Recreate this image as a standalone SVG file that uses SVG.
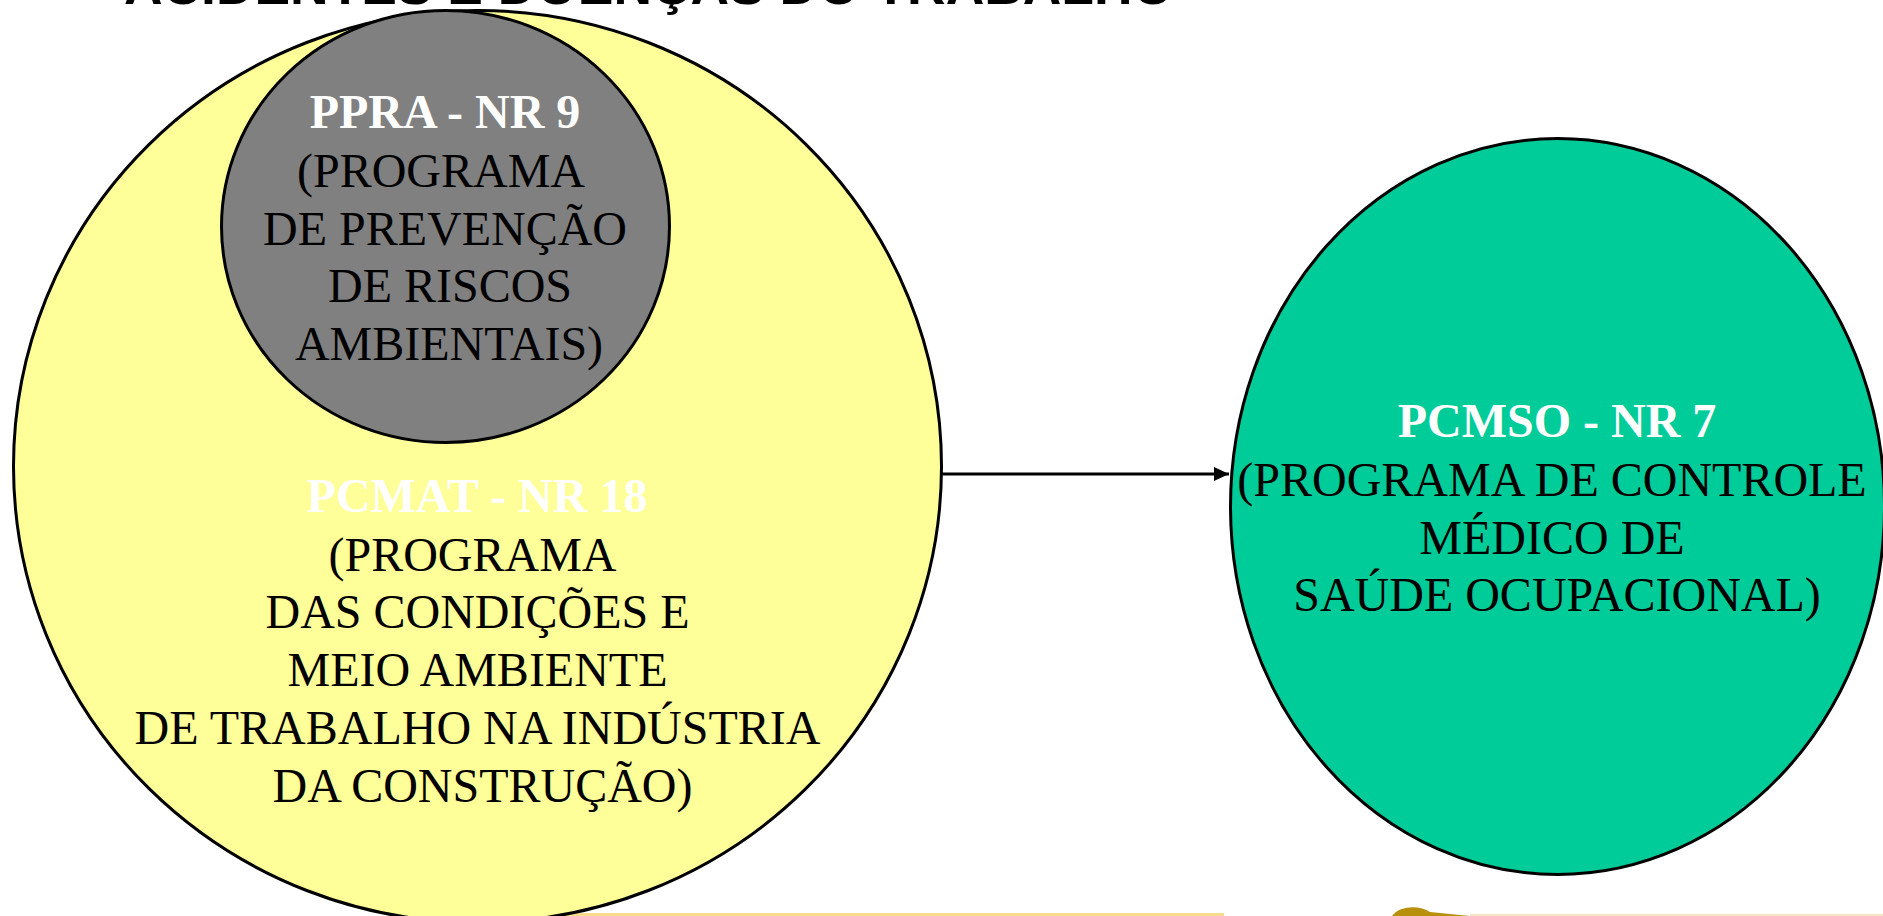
<svg xmlns="http://www.w3.org/2000/svg" width="1883" height="916" viewBox="0 0 1883 916">
<style>
.n{stroke:#000;stroke-width:3}
text{font-family:"Liberation Serif","Times New Roman",serif;font-size:48px;text-anchor:middle;fill:#000}
.b{font-weight:bold;fill:#fff}
.t{font-family:"Liberation Sans",Arial,sans-serif;font-weight:bold;font-size:53.4px}
</style>
<defs><marker id="a" markerWidth="15" markerHeight="14" refX="15" refY="7" orient="auto" markerUnits="userSpaceOnUse"><path d="M0 0L15 7L0 14Z" fill="#000"/></marker></defs>
<rect width="1883" height="916" fill="#fff"/>
<rect x="560" y="913" width="664" height="3" fill="#f7dc8c"/>
<rect x="1470" y="914" width="413" height="2" fill="#f8e3c8"/>
<path d="M1392 916C1400 905 1420 905 1430 912L1470 916Z" fill="#b8900c"/>
<text class="t" x="649" y="4" id="title">ACIDENTES E DOENÇAS DO TRABALHO</text>
<g id="pcmat">
<ellipse class="n" cx="477.500" cy="466.500" rx="464" ry="456" fill="#ffff99"/>
<text class="b" x="477" y="511.500">PCMAT - NR 18</text>
<text x="472.500" y="570.500">(PROGRAMA</text>
<text x="477.500" y="628">DAS CONDIÇÕES E</text>
<text x="477.500" y="686">MEIO AMBIENTE</text>
<text x="477.500" y="744">DE TRABALHO NA INDÚSTRIA</text>
<text x="482.500" y="802">DA CONSTRUÇÃO)</text>
</g>
<g id="ppra">
<ellipse class="n" cx="445.500" cy="226.500" rx="224" ry="216" fill="#808080"/>
<text class="b" x="445" y="128">PPRA - NR 9</text>
<text x="441" y="187">(PROGRAMA</text>
<text x="445" y="245">DE PREVENÇÃO</text>
<text x="450" y="302">DE RISCOS</text>
<text x="449" y="360">AMBIENTAIS)</text>
</g>
<g id="pcmso">
<ellipse class="n" cx="1557.500" cy="506.500" rx="327" ry="368" fill="#00cc99"/>
<text class="b" x="1557" y="437">PCMSO - NR 7</text>
<text x="1552" y="496">(PROGRAMA DE CONTROLE</text>
<text x="1552" y="553.500">MÉDICO DE</text>
<text x="1557" y="611">SAÚDE OCUPACIONAL)</text>
</g>
<g id="connectors"><line x1="942" y1="474" x2="1229" y2="474" stroke="#000" stroke-width="3" marker-end="url(#a)"/></g>
</svg>
